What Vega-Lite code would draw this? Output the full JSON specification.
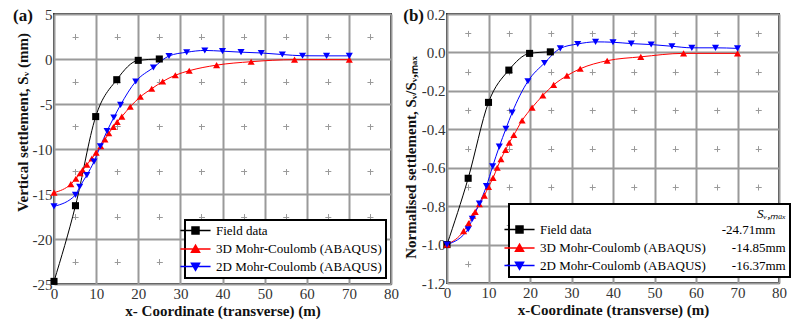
{
  "$schema": "https://vega.github.io/schema/vega-lite/v6.json",
  "padding": {"left": 12, "top": 6, "right": 3, "bottom": 3},
  "spacing": 2,
  "config": {
    "view": {"stroke": "#333333", "strokeWidth": 2},
    "legend": {"strokeWidth": 2, "strokeColor": "#000000"},
    "title": {"font": "Liberation Serif", "fontSize": 17, "fontWeight": "bold", "color": "#111"}
  },
  "resolve": {"scale": {"color": "independent", "shape": "independent"}, "legend": {"color": "independent", "shape": "independent"}},
  "datasets": {
    "abs": [
      {"series": "Field data", "x": 0, "s": -24.71},
      {"series": "Field data", "x": 5.1, "s": -16.3},
      {"series": "Field data", "x": 9.9, "s": -6.4},
      {"series": "Field data", "x": 14.9, "s": -2.3},
      {"series": "Field data", "x": 20, "s": -0.15},
      {"series": "Field data", "x": 25, "s": 0},
      {"series": "3D Mohr-Coulomb (ABAQUS)", "x": 0, "s": -14.85},
      {"series": "3D Mohr-Coulomb (ABAQUS)", "x": 4, "s": -13.9},
      {"series": "3D Mohr-Coulomb (ABAQUS)", "x": 5.2, "s": -13.3},
      {"series": "3D Mohr-Coulomb (ABAQUS)", "x": 6.2, "s": -12.7},
      {"series": "3D Mohr-Coulomb (ABAQUS)", "x": 6.8, "s": -12.35},
      {"series": "3D Mohr-Coulomb (ABAQUS)", "x": 7.8, "s": -11.75},
      {"series": "3D Mohr-Coulomb (ABAQUS)", "x": 9, "s": -11.05},
      {"series": "3D Mohr-Coulomb (ABAQUS)", "x": 10, "s": -10.4},
      {"series": "3D Mohr-Coulomb (ABAQUS)", "x": 11.1, "s": -9.7},
      {"series": "3D Mohr-Coulomb (ABAQUS)", "x": 12.1, "s": -8.95},
      {"series": "3D Mohr-Coulomb (ABAQUS)", "x": 13, "s": -8.25},
      {"series": "3D Mohr-Coulomb (ABAQUS)", "x": 14.1, "s": -7.55},
      {"series": "3D Mohr-Coulomb (ABAQUS)", "x": 15, "s": -7.0},
      {"series": "3D Mohr-Coulomb (ABAQUS)", "x": 16.1, "s": -6.4},
      {"series": "3D Mohr-Coulomb (ABAQUS)", "x": 18.1, "s": -5.3},
      {"series": "3D Mohr-Coulomb (ABAQUS)", "x": 20.5, "s": -4.2},
      {"series": "3D Mohr-Coulomb (ABAQUS)", "x": 23.2, "s": -3.3},
      {"series": "3D Mohr-Coulomb (ABAQUS)", "x": 25.8, "s": -2.5},
      {"series": "3D Mohr-Coulomb (ABAQUS)", "x": 28.8, "s": -1.8},
      {"series": "3D Mohr-Coulomb (ABAQUS)", "x": 32.1, "s": -1.3},
      {"series": "3D Mohr-Coulomb (ABAQUS)", "x": 38.6, "s": -0.68},
      {"series": "3D Mohr-Coulomb (ABAQUS)", "x": 46.8, "s": -0.3},
      {"series": "3D Mohr-Coulomb (ABAQUS)", "x": 57.1, "s": -0.07},
      {"series": "3D Mohr-Coulomb (ABAQUS)", "x": 70.1, "s": -0.07},
      {"series": "2D Mohr-Coulomb (ABAQUS)", "x": 0, "s": -16.37},
      {"series": "2D Mohr-Coulomb (ABAQUS)", "x": 5.1, "s": -15.1},
      {"series": "2D Mohr-Coulomb (ABAQUS)", "x": 6.1, "s": -14.2},
      {"series": "2D Mohr-Coulomb (ABAQUS)", "x": 7.8, "s": -12.9},
      {"series": "2D Mohr-Coulomb (ABAQUS)", "x": 9.5, "s": -11.4},
      {"series": "2D Mohr-Coulomb (ABAQUS)", "x": 11, "s": -9.7},
      {"series": "2D Mohr-Coulomb (ABAQUS)", "x": 12.6, "s": -8.0},
      {"series": "2D Mohr-Coulomb (ABAQUS)", "x": 14.2, "s": -6.5},
      {"series": "2D Mohr-Coulomb (ABAQUS)", "x": 15.8, "s": -5.1},
      {"series": "2D Mohr-Coulomb (ABAQUS)", "x": 19.4, "s": -2.5},
      {"series": "2D Mohr-Coulomb (ABAQUS)", "x": 23.6, "s": -0.95},
      {"series": "2D Mohr-Coulomb (ABAQUS)", "x": 27.3, "s": 0.34},
      {"series": "2D Mohr-Coulomb (ABAQUS)", "x": 31.5, "s": 0.75},
      {"series": "2D Mohr-Coulomb (ABAQUS)", "x": 35.8, "s": 0.95},
      {"series": "2D Mohr-Coulomb (ABAQUS)", "x": 40, "s": 0.87},
      {"series": "2D Mohr-Coulomb (ABAQUS)", "x": 44.4, "s": 0.76},
      {"series": "2D Mohr-Coulomb (ABAQUS)", "x": 49.2, "s": 0.67},
      {"series": "2D Mohr-Coulomb (ABAQUS)", "x": 54.2, "s": 0.5},
      {"series": "2D Mohr-Coulomb (ABAQUS)", "x": 59, "s": 0.36},
      {"series": "2D Mohr-Coulomb (ABAQUS)", "x": 64.7, "s": 0.35},
      {"series": "2D Mohr-Coulomb (ABAQUS)", "x": 70.1, "s": 0.35}
    ],
    "norm": [
      {"series": "Field data", "x": 0, "n": -1},
      {"series": "Field data", "x": 5.1, "n": -0.655},
      {"series": "Field data", "x": 10, "n": -0.26},
      {"series": "Field data", "x": 14.9, "n": -0.092},
      {"series": "Field data", "x": 19.9, "n": -0.005},
      {"series": "Field data", "x": 24.9, "n": 0.003},
      {"series": "3D Mohr-Coulomb (ABAQUS)", "x": 0, "n": -1},
      {"series": "3D Mohr-Coulomb (ABAQUS)", "x": 4, "n": -0.93},
      {"series": "3D Mohr-Coulomb (ABAQUS)", "x": 5.2, "n": -0.89},
      {"series": "3D Mohr-Coulomb (ABAQUS)", "x": 6.2, "n": -0.85},
      {"series": "3D Mohr-Coulomb (ABAQUS)", "x": 6.8, "n": -0.83},
      {"series": "3D Mohr-Coulomb (ABAQUS)", "x": 7.8, "n": -0.79},
      {"series": "3D Mohr-Coulomb (ABAQUS)", "x": 9, "n": -0.745},
      {"series": "3D Mohr-Coulomb (ABAQUS)", "x": 10, "n": -0.7},
      {"series": "3D Mohr-Coulomb (ABAQUS)", "x": 11.1, "n": -0.653},
      {"series": "3D Mohr-Coulomb (ABAQUS)", "x": 12.1, "n": -0.6},
      {"series": "3D Mohr-Coulomb (ABAQUS)", "x": 13, "n": -0.555},
      {"series": "3D Mohr-Coulomb (ABAQUS)", "x": 14.1, "n": -0.508},
      {"series": "3D Mohr-Coulomb (ABAQUS)", "x": 15, "n": -0.47},
      {"series": "3D Mohr-Coulomb (ABAQUS)", "x": 16.1, "n": -0.43},
      {"series": "3D Mohr-Coulomb (ABAQUS)", "x": 18.1, "n": -0.354},
      {"series": "3D Mohr-Coulomb (ABAQUS)", "x": 20.5, "n": -0.287},
      {"series": "3D Mohr-Coulomb (ABAQUS)", "x": 23.1, "n": -0.224},
      {"series": "3D Mohr-Coulomb (ABAQUS)", "x": 25.7, "n": -0.169},
      {"series": "3D Mohr-Coulomb (ABAQUS)", "x": 28.9, "n": -0.121},
      {"series": "3D Mohr-Coulomb (ABAQUS)", "x": 32.1, "n": -0.085},
      {"series": "3D Mohr-Coulomb (ABAQUS)", "x": 38.6, "n": -0.043},
      {"series": "3D Mohr-Coulomb (ABAQUS)", "x": 46.7, "n": -0.023},
      {"series": "3D Mohr-Coulomb (ABAQUS)", "x": 57, "n": -0.005},
      {"series": "3D Mohr-Coulomb (ABAQUS)", "x": 70, "n": -0.005},
      {"series": "2D Mohr-Coulomb (ABAQUS)", "x": 0, "n": -1},
      {"series": "2D Mohr-Coulomb (ABAQUS)", "x": 5.1, "n": -0.92},
      {"series": "2D Mohr-Coulomb (ABAQUS)", "x": 6.1, "n": -0.866},
      {"series": "2D Mohr-Coulomb (ABAQUS)", "x": 7.8, "n": -0.787},
      {"series": "2D Mohr-Coulomb (ABAQUS)", "x": 9.5, "n": -0.696},
      {"series": "2D Mohr-Coulomb (ABAQUS)", "x": 11, "n": -0.593},
      {"series": "2D Mohr-Coulomb (ABAQUS)", "x": 12.6, "n": -0.49},
      {"series": "2D Mohr-Coulomb (ABAQUS)", "x": 14.2, "n": -0.397},
      {"series": "2D Mohr-Coulomb (ABAQUS)", "x": 15.7, "n": -0.313},
      {"series": "2D Mohr-Coulomb (ABAQUS)", "x": 19.5, "n": -0.15},
      {"series": "2D Mohr-Coulomb (ABAQUS)", "x": 23.5, "n": -0.055},
      {"series": "2D Mohr-Coulomb (ABAQUS)", "x": 27.3, "n": 0.021},
      {"series": "2D Mohr-Coulomb (ABAQUS)", "x": 31.5, "n": 0.044},
      {"series": "2D Mohr-Coulomb (ABAQUS)", "x": 35.8, "n": 0.055},
      {"series": "2D Mohr-Coulomb (ABAQUS)", "x": 40, "n": 0.053},
      {"series": "2D Mohr-Coulomb (ABAQUS)", "x": 44.4, "n": 0.046},
      {"series": "2D Mohr-Coulomb (ABAQUS)", "x": 49.2, "n": 0.041},
      {"series": "2D Mohr-Coulomb (ABAQUS)", "x": 54.2, "n": 0.032},
      {"series": "2D Mohr-Coulomb (ABAQUS)", "x": 59, "n": 0.024},
      {"series": "2D Mohr-Coulomb (ABAQUS)", "x": 64.7, "n": 0.024},
      {"series": "2D Mohr-Coulomb (ABAQUS)", "x": 70, "n": 0.021}
    ]
  },
  "hconcat": [
    {
      "width": 337,
      "height": 270,
      "title": {"text": "(a)", "anchor": "start", "frame": "bounds", "orient": "top", "offset": 0, "dy": 18, "dx": -2, "font": "Liberation Serif", "fontSize": 17, "fontWeight": "bold"},
      "data": {"name": "abs"},
      "layer": [
        {
          "mark": {"type": "line", "strokeWidth": 1, "interpolate": "monotone"},
          "encoding": {
            "x": {"field": "x", "type": "quantitative", "scale": {"domain": [0, 80], "nice": false},
              "axis": {"values": [0, 10, 20, 30, 40, 50, 60, 70, 80], "grid": true, "gridColor": "#9a9a9a", "gridWidth": 2, "gridOpacity": 1, "ticks": false, "domain": false, "labelFont": "Liberation Serif", "labelFontSize": 15, "labelColor": "#333", "labelPadding": 2, "labelFlush": false, "title": "x- Coordinate (transverse) (m)", "titleFont": "Liberation Serif", "titleFontSize": 15, "titleFontWeight": "bold", "titleColor": "#111", "titlePadding": 2}},
            "y": {"field": "s", "type": "quantitative", "scale": {"domain": [-25, 5], "nice": false},
              "axis": {"values": [-25, -20, -15, -10, -5, 0, 5], "grid": true, "gridColor": "#9a9a9a", "gridWidth": 2, "gridOpacity": 1, "ticks": false, "domain": false, "labelFont": "Liberation Serif", "labelFontSize": 15, "labelColor": "#333", "labelPadding": 2, "labelFlush": false, "labelExpr": "replace(datum.label, '\u2212', '-')", "title": "Vertical settlement, S\u1d65 (mm)", "titleFont": "Liberation Serif", "titleFontSize": 15, "titleFontWeight": "bold", "titleColor": "#111", "titlePadding": 2, "titleY": 108}},
            "color": {"field": "series", "type": "nominal", "scale": {"domain": ["Field data", "3D Mohr-Coulomb (ABAQUS)", "2D Mohr-Coulomb (ABAQUS)"], "range": ["#000000", "#ff0000", "#0000ff"]}, "legend": null}
          }
        },
        {
          "mark": {"type": "point", "filled": true, "opacity": 1, "size": 50},
          "encoding": {
            "x": {"field": "x", "type": "quantitative",
              "axis": {"orient": "top", "values": [5, 15, 25, 35, 45, 55, 65, 75], "grid": true, "labels": false, "ticks": false, "domain": false, "title": null, "gridColor": "#9a9a9a", "gridWidth": 1, "gridDash": [6, 39], "gridDashOffset": 25.5}},
            "y": {"field": "s", "type": "quantitative",
              "axis": {"orient": "right", "values": [-22.5, -17.5, -12.5, -7.5, -2.5, 2.5], "grid": true, "labels": false, "ticks": false, "domain": false, "title": null, "gridColor": "#9a9a9a", "gridWidth": 1, "gridDash": [6, 36.12], "gridDashOffset": 24.06}},
            "color": {"field": "series", "type": "nominal", "scale": {"domain": ["Field data", "3D Mohr-Coulomb (ABAQUS)", "2D Mohr-Coulomb (ABAQUS)"], "range": ["#000000", "#ff0000", "#0000ff"]}, "legend": null},
            "shape": {"field": "series", "type": "nominal", "scale": {"domain": ["Field data", "3D Mohr-Coulomb (ABAQUS)", "2D Mohr-Coulomb (ABAQUS)"], "range": ["square", "triangle-up", "triangle-down"]}, "legend": null}
          }
        },
        {
          "transform": [{"filter": "datum.x < -1000"}],
          "mark": {"type": "point", "filled": true, "opacity": 1, "size": 49, "strokeWidth": 1},
          "encoding": {
            "x": {"field": "x", "type": "quantitative", "axis": null},
            "y": {"field": "s", "type": "quantitative", "axis": null},
            "fill": {"field": "series", "type": "nominal", "scale": {"domain": ["Field data", "3D Mohr-Coulomb (ABAQUS)", "2D Mohr-Coulomb (ABAQUS)"], "range": ["#000000", "#ff0000", "#0000ff"]},
              "legend": {"orient": "none", "legendX": 131, "legendY": 206, "title": null, "strokeColor": "#000000", "fillColor": "#ffffff", "padding": 4, "labelFont": "Liberation Serif", "labelFontSize": 13, "labelColor": "#000", "labelLimit": 400, "rowPadding": 3.5, "symbolSize": 49, "labelOffset": 14}},
            "stroke": {"field": "series", "type": "nominal", "scale": {"domain": ["Field data", "3D Mohr-Coulomb (ABAQUS)", "2D Mohr-Coulomb (ABAQUS)"], "range": ["#000000", "#ff0000", "#0000ff"]},
              "legend": {"orient": "none", "legendX": 131, "legendY": 206, "title": null, "strokeColor": "#000000", "fillColor": "#ffffff", "padding": 4, "labelFont": "Liberation Serif", "labelFontSize": 13, "labelColor": "#000", "labelLimit": 400, "rowPadding": 3.5, "symbolSize": 49, "labelOffset": 14}},
            "shape": {"field": "series", "type": "nominal", "scale": {"domain": ["Field data", "3D Mohr-Coulomb (ABAQUS)", "2D Mohr-Coulomb (ABAQUS)"], "range": ["M-4.3,0H4.3M-1,-1H1V1H-1Z", "M-4.3,0H4.3M0,-1.1L1.15,0.9H-1.15Z", "M-4.3,0H4.3M0,1.1L1.15,-0.9H-1.15Z"]},
              "legend": {"orient": "none", "legendX": 131, "legendY": 206, "title": null, "strokeColor": "#000000", "fillColor": "#ffffff", "padding": 4, "labelFont": "Liberation Serif", "labelFontSize": 13, "labelColor": "#000", "labelLimit": 400, "rowPadding": 3.5, "symbolSize": 49, "labelOffset": 14}}
          }
        }
      ],
      "resolve": {"axis": {"x": "independent", "y": "independent"}, "scale": {"shape": "independent", "color": "independent", "fill": "independent", "stroke": "independent"}}
    },
    {
      "width": 332,
      "height": 269,
      "title": {"text": "(b)", "anchor": "start", "frame": "bounds", "orient": "top", "offset": 0, "dy": 18, "dx": 0, "font": "Liberation Serif", "fontSize": 17, "fontWeight": "bold"},
      "data": {"name": "norm"},
      "layer": [
        {
          "mark": {"type": "line", "strokeWidth": 1, "interpolate": "monotone"},
          "encoding": {
            "x": {"field": "x", "type": "quantitative", "scale": {"domain": [0, 80], "nice": false},
              "axis": {"values": [0, 10, 20, 30, 40, 50, 60, 70, 80], "grid": true, "gridColor": "#9a9a9a", "gridWidth": 2, "gridOpacity": 1, "ticks": false, "domain": false, "labelFont": "Liberation Serif", "labelFontSize": 15, "labelColor": "#333", "labelPadding": 2, "labelFlush": false, "title": "x-Coordinate (transverse) (m)", "titleFont": "Liberation Serif", "titleFontSize": 15, "titleFontWeight": "bold", "titleColor": "#111", "titlePadding": 2}},
            "y": {"field": "n", "type": "quantitative", "scale": {"domain": [-1.2, 0.2], "nice": false},
              "axis": {"values": [-1.2, -1, -0.8, -0.6, -0.4, -0.2, 0, 0.2], "grid": true, "gridColor": "#9a9a9a", "gridWidth": 2, "gridOpacity": 1, "ticks": false, "domain": false, "labelFont": "Liberation Serif", "labelFontSize": 15, "labelColor": "#333", "labelPadding": 2, "labelFlush": false, "labelExpr": "replace(format(datum.value, '.1f'), '\u2212', '-')", "title": "Normalised settlement, S\u1d65/S\u1d65,\u2098\u2090\u2093", "titleFont": "Liberation Serif", "titleFontSize": 15, "titleFontWeight": "bold", "titleColor": "#111", "titlePadding": 3, "titleY": 143}},
            "color": {"field": "series", "type": "nominal", "scale": {"domain": ["Field data", "3D Mohr-Coulomb (ABAQUS)", "2D Mohr-Coulomb (ABAQUS)"], "range": ["#000000", "#ff0000", "#0000ff"]}, "legend": null}
          }
        },
        {
          "mark": {"type": "point", "filled": true, "opacity": 1, "size": 50},
          "encoding": {
            "x": {"field": "x", "type": "quantitative",
              "axis": {"orient": "top", "values": [5, 15, 25, 35, 45, 55, 65, 75], "grid": true, "labels": false, "ticks": false, "domain": false, "title": null, "gridColor": "#9a9a9a", "gridWidth": 1, "gridDash": [6, 32.4], "gridDashOffset": 22.2}},
            "y": {"field": "n", "type": "quantitative",
              "axis": {"orient": "right", "values": [-1.1, -0.9, -0.7, -0.5, -0.3, -0.1, 0.1], "grid": true, "labels": false, "ticks": false, "domain": false, "title": null, "gridColor": "#9a9a9a", "gridWidth": 1, "gridDash": [6, 35.5], "gridDashOffset": 23.75}},
            "color": {"field": "series", "type": "nominal", "scale": {"domain": ["Field data", "3D Mohr-Coulomb (ABAQUS)", "2D Mohr-Coulomb (ABAQUS)"], "range": ["#000000", "#ff0000", "#0000ff"]}, "legend": null},
            "shape": {"field": "series", "type": "nominal", "scale": {"domain": ["Field data", "3D Mohr-Coulomb (ABAQUS)", "2D Mohr-Coulomb (ABAQUS)"], "range": ["square", "triangle-up", "triangle-down"]}, "legend": null}
          }
        },
        {
          "transform": [{"filter": "datum.x < -1000"}],
          "mark": {"type": "point", "filled": true, "opacity": 1, "size": 49, "strokeWidth": 1},
          "encoding": {
            "x": {"field": "x", "type": "quantitative", "axis": null},
            "y": {"field": "n", "type": "quantitative", "axis": null},
            "fill": {"field": "series", "type": "nominal", "scale": {"domain": ["Field data", "3D Mohr-Coulomb (ABAQUS)", "2D Mohr-Coulomb (ABAQUS)"], "range": ["#000000", "#ff0000", "#0000ff"]},
              "legend": {"orient": "none", "legendX": 62, "legendY": 190, "title": "S\u1d65,\u2098\u2090\u2093", "titleAnchor": "end", "titleFont": "Liberation Serif", "titleFontStyle": "italic", "titleFontWeight": "normal", "titleFontSize": 13, "titleColor": "#000", "titlePadding": 2, "strokeColor": "#000000", "fillColor": "#ffffff", "padding": 4, "labelFont": "Liberation Serif", "labelFontSize": 13, "labelColor": "#000", "labelLimit": 400, "rowPadding": 3.5, "symbolSize": 49, "labelOffset": 14,
                "labelExpr": "datum.label === 'Field data' ? 'Field data\u2003\u2003\u2003\u2003\u2003\u2003\u2003\u2003\u2003\u2003-24.71mm' : datum.label === '3D Mohr-Coulomb (ABAQUS)' ? '3D Mohr-Coulomb (ABAQUS)\u2003\u2003-14.85mm' : '2D Mohr-Coulomb (ABAQUS)\u2003\u2003-16.37mm'"}},
            "stroke": {"field": "series", "type": "nominal", "scale": {"domain": ["Field data", "3D Mohr-Coulomb (ABAQUS)", "2D Mohr-Coulomb (ABAQUS)"], "range": ["#000000", "#ff0000", "#0000ff"]},
              "legend": {"orient": "none", "legendX": 62, "legendY": 190, "title": "S\u1d65,\u2098\u2090\u2093", "titleAnchor": "end", "titleFont": "Liberation Serif", "titleFontStyle": "italic", "titleFontWeight": "normal", "titleFontSize": 13, "titleColor": "#000", "titlePadding": 2, "strokeColor": "#000000", "fillColor": "#ffffff", "padding": 4, "labelFont": "Liberation Serif", "labelFontSize": 13, "labelColor": "#000", "labelLimit": 400, "rowPadding": 3.5, "symbolSize": 49, "labelOffset": 14,
                "labelExpr": "datum.label === 'Field data' ? 'Field data\u2003\u2003\u2003\u2003\u2003\u2003\u2003\u2003\u2003\u2003-24.71mm' : datum.label === '3D Mohr-Coulomb (ABAQUS)' ? '3D Mohr-Coulomb (ABAQUS)\u2003\u2003-14.85mm' : '2D Mohr-Coulomb (ABAQUS)\u2003\u2003-16.37mm'"}},
            "shape": {"field": "series", "type": "nominal", "scale": {"domain": ["Field data", "3D Mohr-Coulomb (ABAQUS)", "2D Mohr-Coulomb (ABAQUS)"], "range": ["M-4.3,0H4.3M-1,-1H1V1H-1Z", "M-4.3,0H4.3M0,-1.1L1.15,0.9H-1.15Z", "M-4.3,0H4.3M0,1.1L1.15,-0.9H-1.15Z"]},
              "legend": {"orient": "none", "legendX": 62, "legendY": 190, "title": "S\u1d65,\u2098\u2090\u2093", "titleAnchor": "end", "titleFont": "Liberation Serif", "titleFontStyle": "italic", "titleFontWeight": "normal", "titleFontSize": 13, "titleColor": "#000", "titlePadding": 2, "strokeColor": "#000000", "fillColor": "#ffffff", "padding": 4, "labelFont": "Liberation Serif", "labelFontSize": 13, "labelColor": "#000", "labelLimit": 400, "rowPadding": 3.5, "symbolSize": 49, "labelOffset": 14,
                "labelExpr": "datum.label === 'Field data' ? 'Field data\u2003\u2003\u2003\u2003\u2003\u2003\u2003\u2003\u2003\u2003-24.71mm' : datum.label === '3D Mohr-Coulomb (ABAQUS)' ? '3D Mohr-Coulomb (ABAQUS)\u2003\u2003-14.85mm' : '2D Mohr-Coulomb (ABAQUS)\u2003\u2003-16.37mm'"}}
          }
        }
      ],
      "resolve": {"axis": {"x": "independent", "y": "independent"}, "scale": {"shape": "independent", "color": "independent", "fill": "independent", "stroke": "independent"}}
    }
  ]
}
